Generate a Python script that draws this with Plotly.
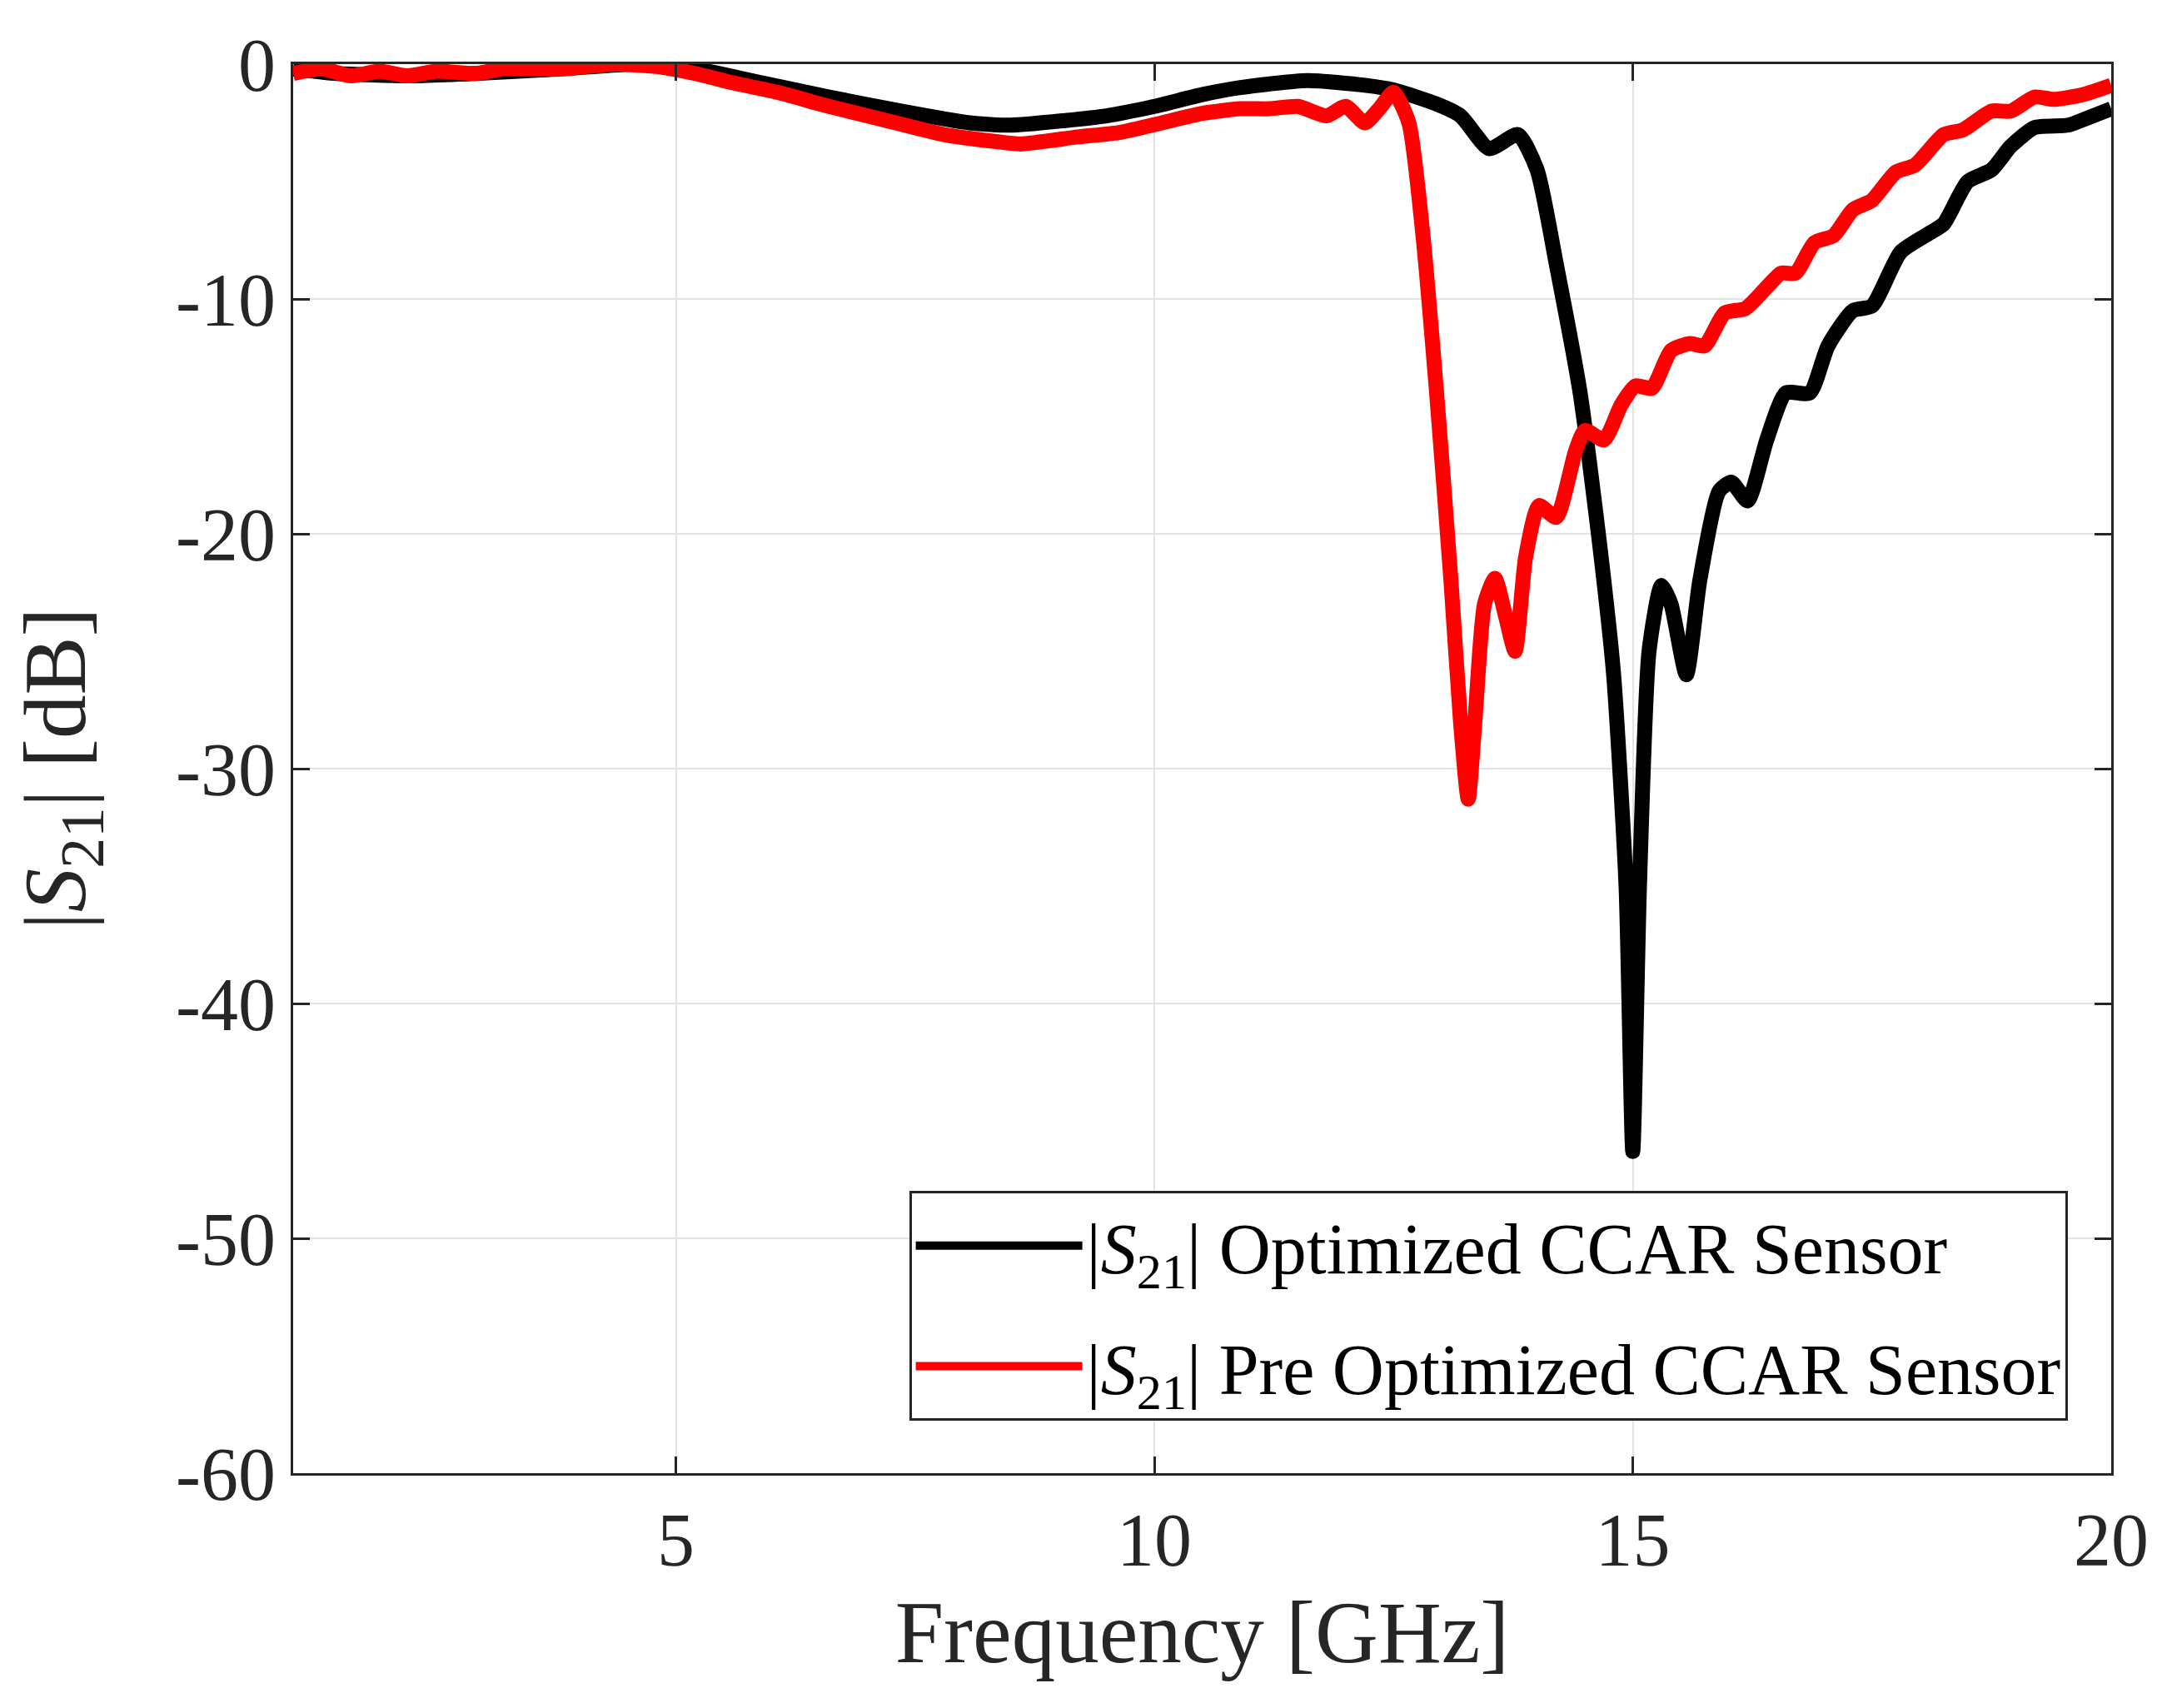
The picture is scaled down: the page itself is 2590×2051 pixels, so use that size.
import plotly.graph_objects as go

# |S21|
freq_opt = [1.0, 1.46, 2.2, 2.9, 3.8, 4.6, 5.2, 5.9, 6.6, 7.35, 8.07, 8.5, 9.07, 9.5,
            10.0, 10.5, 10.9, 11.6, 12.2, 12.5, 12.95, 13.2, 13.5, 13.8, 14.0, 14.2,
            14.45, 14.67, 14.8, 14.93, 15.0, 15.07, 15.17, 15.3, 15.4, 15.56, 15.7,
            15.9, 16.03, 16.2, 16.4, 16.6, 16.85, 17.04, 17.3, 17.5, 17.8, 18.1,
            18.25, 18.5, 18.75, 18.95, 19.2, 19.55, 19.75, 20.0]
s21_opt = [-0.2, -0.4, -0.5, -0.4, -0.2, 0.0, -0.2, -0.8, -1.4, -2.0, -2.5, -2.6, -2.4, -2.2,
           -1.8, -1.3, -1.0, -0.7, -0.9, -1.1, -1.7, -2.2, -3.6, -3.0, -4.5, -8.5,
           -14.0, -21.0, -26.0, -35.0, -46.3, -35.0, -25.0, -22.2, -23.0, -26.0, -22.0,
           -18.2, -17.8, -18.6, -16.0, -14.0, -14.0, -12.0, -10.5, -10.3, -8.0, -7.2,
           -6.8, -5.0, -4.5, -3.5, -2.7, -2.6, -2.3, -1.9]

freq_pre = [1.0, 1.3, 1.6, 1.9, 2.2, 2.5, 2.9, 3.2, 3.8, 4.35, 4.8, 5.2, 5.6, 6.06, 6.6,
            7.2, 7.8, 8.35, 8.6, 9.2, 9.65, 10.08, 10.5, 10.9, 11.2, 11.5, 11.8, 12.0,
            12.2, 12.35, 12.5, 12.66, 12.8, 12.95, 13.1, 13.2, 13.28, 13.35, 13.45,
            13.56, 13.67, 13.77, 13.88, 14.02, 14.2, 14.4, 14.5, 14.7, 14.88, 15.03,
            15.2, 15.4, 15.6, 15.75, 15.96, 16.18, 16.4, 16.55, 16.7, 16.9, 17.1, 17.3,
            17.5, 17.75, 17.95, 18.25, 18.45, 18.75, 18.95, 19.2, 19.4, 19.7, 20.0]
s21_pre = [-0.4, -0.2, -0.5, -0.3, -0.5, -0.3, -0.4, -0.2, -0.2, 0.0, -0.1, -0.4, -0.8,
           -1.2, -1.8, -2.4, -3.0, -3.3, -3.4, -3.1, -2.9, -2.5, -2.1, -1.9, -1.9, -1.8,
           -2.2, -1.8, -2.5, -1.9, -1.2, -2.5, -7.0, -14.0, -22.0, -28.0, -31.3, -28.0,
           -23.0, -21.9, -23.5, -25.0, -21.0, -18.8, -19.3, -16.5, -15.6, -16.0, -14.5,
           -13.7, -13.8, -12.2, -11.9, -12.0, -10.6, -10.4, -9.5, -8.9, -8.9, -7.6, -7.3,
           -6.2, -5.8, -4.6, -4.3, -3.0, -2.8, -2.0, -2.0, -1.4, -1.5, -1.3, -0.9]

x_ticks = [5, 10, 15, 20]
y_ticks = [0, -10, -20, -30, -40, -50, -60]
y_ticktext = ["0", "-10", "-20", "-30", "-40", "-50", "-60"]

font = "Liberation Serif"
axis_col = "#262626"

fig = go.Figure()
fig.add_trace(go.Scatter(x=freq_opt, y=s21_opt, mode="lines", legendgroup="a",
                         line=dict(color="black", width=18, shape="spline", smoothing=0.6),
                         name="|<i>S</i><sub>21</sub>| Optimized CCAR Sensor"))
fig.add_trace(go.Scatter(x=freq_pre, y=s21_pre, mode="lines", legendgroup="b",
                         line=dict(color="#ff0000", width=18, shape="spline", smoothing=0.6),
                         name="|<i>S</i><sub>21</sub>| Pre Optimized CCAR Sensor"))

axis_common = dict(showline=True, linecolor=axis_col, linewidth=3, mirror="ticks",
                   ticks="inside", ticklen=20, tickwidth=3, tickcolor=axis_col,
                   showgrid=True, gridcolor="#e3e3e3", gridwidth=2, zeroline=False,
                   tickfont=dict(family=font, size=90, color=axis_col))

fig.update_xaxes(range=[1, 20], tickvals=x_ticks,
                 title=dict(text="Frequency [GHz]", font=dict(family=font, size=105, color=axis_col),
                            standoff=25),
                 **axis_common)
fig.update_yaxes(range=[-60, 0], tickvals=y_ticks, ticktext=y_ticktext,
                 title=dict(text="|<i>S</i><sub>21</sub>| [dB]", font=dict(family=font, size=105, color=axis_col),
                            standoff=80),
                 **axis_common)

fig.update_layout(
    width=2590, height=2051,
    margin=dict(l=344, r=63, t=69, b=290),
    plot_bgcolor="white", paper_bgcolor="white",
    font=dict(family=font, color=axis_col),
    legend=dict(x=0.976, y=0.037, xanchor="right", yanchor="bottom",
                bgcolor="white", bordercolor=axis_col, borderwidth=3,
                font=dict(family=font, size=86, color="black"),
                itemwidth=200, tracegroupgap=30),
)

fig.write_html("out.html")
